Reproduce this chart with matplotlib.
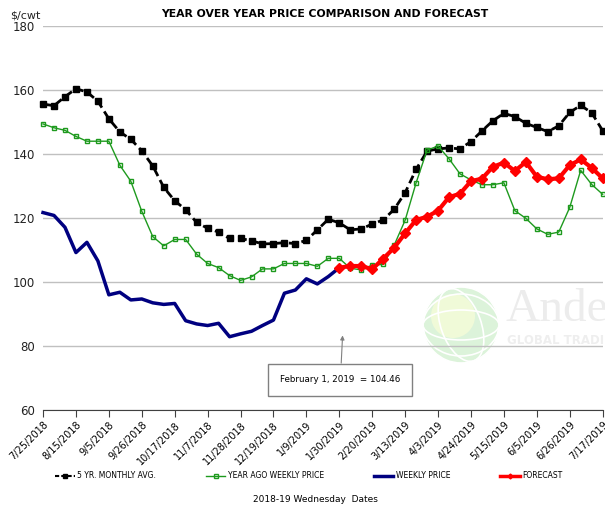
import numpy as np
import matplotlib
matplotlib.use('Agg')
import matplotlib.pyplot as plt
from matplotlib.patches import Circle, Arc
from matplotlib.lines import Line2D

# weekly dates, 7/25/2018 .. 7/17/2019 (52 Wednesdays)
tick_labels = ['7/25/2018', '8/15/2018', '9/5/2018', '9/26/2018', '10/17/2018',
               '11/7/2018', '11/28/2018', '12/19/2018', '1/9/2019', '1/30/2019',
               '2/20/2019', '3/13/2019', '4/3/2019', '4/24/2019', '5/15/2019',
               '6/5/2019', '6/26/2019', '7/17/2019']

five_yr_avg = [155.6, 155.1, 157.9, 160.4, 159.4, 156.5, 151.0, 146.9, 144.6, 141.0,
               136.3, 129.6, 125.4, 122.6, 118.6, 116.8, 115.6, 113.6, 113.6, 112.9,
               111.9, 112.0, 112.3, 112.0, 113.0, 116.3, 119.6, 118.5, 116.3, 116.6,
               118.1, 119.4, 122.7, 127.9, 135.2, 140.9, 141.6, 141.9, 141.6, 143.9,
               147.2, 150.4, 152.7, 151.7, 149.6, 148.3, 147.0, 148.8, 153.0, 155.2,
               152.9, 147.3]

year_ago = [149.4, 148.2, 147.4, 145.5, 144.0, 144.0, 144.0, 136.5, 131.5, 122.1,
            114.2, 111.3, 113.3, 113.3, 108.7, 105.8, 104.5, 102.0, 100.5, 101.6,
            104.1, 104.1, 105.8, 105.8, 105.8, 104.9, 107.4, 107.4, 104.3, 103.8,
            105.3, 105.5, 111.5, 119.3, 131.0, 141.2, 142.5, 138.5, 133.8, 131.9,
            130.4, 130.4, 131.0, 122.3, 119.9, 116.6, 114.9, 115.6, 123.3, 134.9,
            130.5, 127.4]

weekly = [121.7, 120.8, 117.1, 109.2, 112.4, 106.6, 96.0, 96.8, 94.4, 94.7,
          93.5, 93.0, 93.3, 87.9, 86.9, 86.4, 87.1, 82.9, 83.8, 84.6,
          86.4, 88.1, 96.5, 97.5, 101.0, 99.4, 101.7, 104.46]

forecast = [104.46, 105.0, 105.0, 104.0, 107.3, 110.7, 115.2, 119.4, 120.4, 122.3,
            126.5, 127.6, 131.5, 132.3, 136.0, 137.3, 134.7, 137.5, 132.9, 132.1,
            132.4, 136.5, 138.3, 135.7, 132.4]

x_all = np.arange(len(five_yr_avg))
x_weekly = np.arange(len(weekly))
x_fcst = np.arange(len(weekly) - 1, len(weekly) - 1 + len(forecast))

GREEN = '#1e9a1e'
NAVY = '#000080'
RED = '#ff0000'

fig = plt.figure(figsize=(6.05, 5.07), dpi=100)
ax = fig.add_axes([0.0711, 0.1913, 0.925, 0.7574])

ax.set_xlim(0, len(five_yr_avg) - 1)
ax.set_ylim(60, 180)
ax.set_yticks(np.arange(60, 181, 20))
ax.yaxis.grid(True, color='#c0c0c0', lw=1.0)
ax.set_axisbelow(True)
for s in ['left', 'right', 'top']:
    ax.spines[s].set_visible(False)
ax.spines['bottom'].set_color('#404040')
ax.tick_params(axis='y', length=0, labelsize=8.5, labelcolor='#222222', pad=6)
ax.set_xticks(np.arange(0, len(five_yr_avg), 3))
ax.set_xticklabels(tick_labels, rotation=45, ha='right', rotation_mode='anchor',
                   fontsize=7)
ax.tick_params(axis='x', direction='out', length=5, color='#404040', pad=2)

# faint company watermark (pixel coordinates)
gx, gy = 461, 507 - 325
ax.add_patch(Circle((gx, gy), 38, transform=None, facecolor='#d9f2d6',
                    edgecolor='none', alpha=0.9, zorder=0))
ax.add_patch(Circle((gx - 8, gy + 9), 22, transform=None, facecolor='#f3fbd8',
                    edgecolor='none', alpha=0.9, zorder=0))
for w, h, a in [(76, 30, 0), (76, 62, 0), (40, 76, 20), (76, 76, 0)]:
    ax.add_patch(Arc((gx, gy), w, h, angle=a, transform=None,
                     color='white', lw=1.2, zorder=0))
fig.text(506 / 605, 1 - 310 / 507, 'Andersons', fontsize=34,
         family='Liberation Serif', color='#ececec', va='center', ha='left',
         zorder=0)
fig.text(507 / 605, 1 - 340 / 507, 'GLOBAL TRADING', fontsize=8.5, color='#eeeeee',
         va='center', ha='left', zorder=0, fontweight='bold')

ax.plot(x_all, five_yr_avg, color='black', lw=2, ls=(0, (3, 1.6)), marker='s',
        ms=4, zorder=3, clip_on=False)
ax.plot(x_all, year_ago, color=GREEN, lw=1, marker='s', ms=3.4,
        mfc='none', mec=GREEN, mew=1, zorder=3, clip_on=False)
ax.plot(x_weekly, weekly, color=NAVY, lw=2.5, zorder=4, clip_on=False)
ax.plot(x_fcst, forecast, color=RED, lw=3, marker='D', ms=5.5, zorder=5,
        clip_on=False)

# callout for the last actual weekly price
last_i = len(weekly) - 1
ax.annotate('February 1, 2019  = %.2f' % weekly[-1], xy=(last_i + 0.3, 83.3),
            xytext=(last_i + 0.1, 69.4), ha='center', va='center', fontsize=6.3,
            bbox=dict(boxstyle='square,pad=1.35', fc='white', ec='#808080', lw=1),
            arrowprops=dict(arrowstyle='-|>', color='#808080', lw=0.8,
                            mutation_scale=6, shrinkA=0, shrinkB=0))

fig.text(0.0165, 1 - 16 / 507, '$/cwt', fontsize=8, color='#222222',
         va='center', ha='left')
fig.text(0.5364, 1 - 14 / 507, 'YEAR OVER YEAR PRICE COMPARISON AND FORECAST',
         fontsize=7.8, fontweight='bold', ha='center', va='center')

handles = [
    Line2D([], [], color='black', lw=1.5, ls=(0, (2, 1)), marker='s', ms=3.5),
    Line2D([], [], color=GREEN, lw=1, marker='s', ms=3.5, mfc='none', mec=GREEN),
    Line2D([], [], color=NAVY, lw=2.5),
    Line2D([], [], color=RED, lw=2.5, marker='D', ms=2.5),
]
names = ['5 YR. MONTHLY AVG.', 'YEAR AGO WEEKLY PRICE', 'WEEKLY PRICE', 'FORECAST']
fig.legend(handles, names, loc='center', bbox_to_anchor=(0.51, 1 - 476 / 507),
           ncol=4, frameon=False, fontsize=5.5, handlelength=2.6,
           handletextpad=0.3, columnspacing=6.5)

fig.text(0.521, 1 - 500 / 507, '2018-19 Wednesday  Dates', fontsize=6.5,
         ha='center', va='center')

fig.savefig('out.png', dpi=100)
